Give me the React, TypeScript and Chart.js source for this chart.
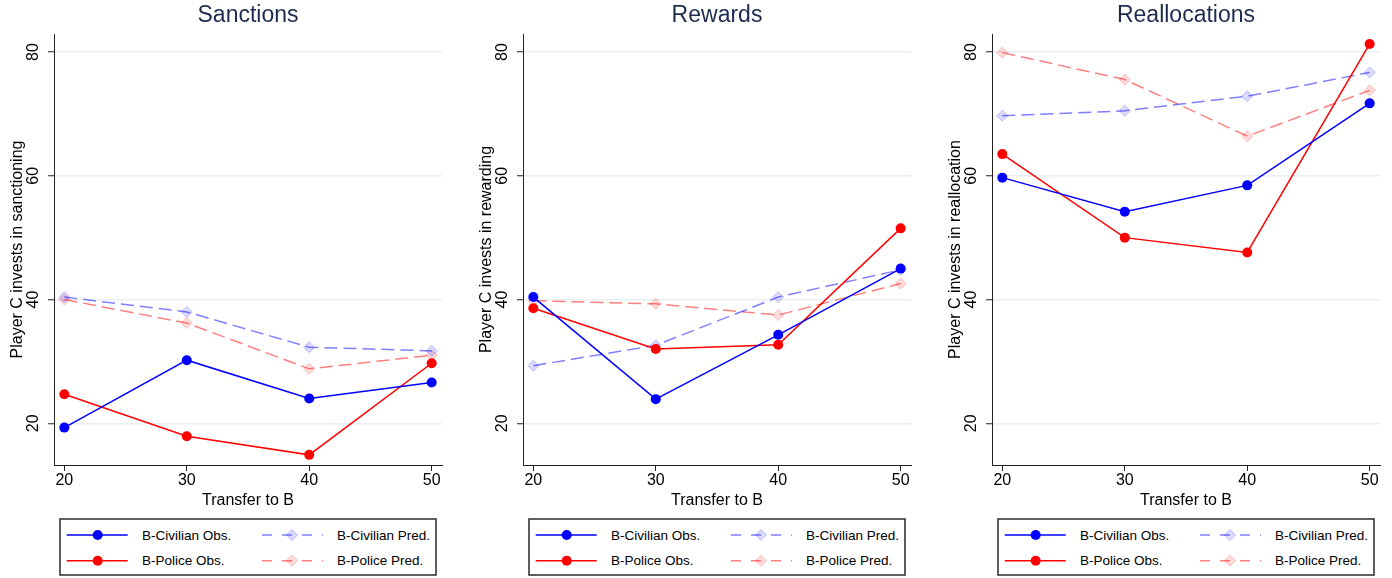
import { useEffect, useRef } from 'react';
import { Chart, registerables } from 'chart.js';

Chart.register(...registerables);

// ---- data ----
const transfers = [20, 30, 40, 50];
const xTicks = [20, 30, 40, 50];
const yTicks = [20, 40, 60, 80];

const sanctionsCivObs = [19.3, 30.2, 24.0, 26.6];
const sanctionsPolObs = [24.7, 17.9, 14.9, 29.7];
const sanctionsCivPred = [40.4, 38.0, 32.3, 31.7];
const sanctionsPolPred = [40.0, 36.2, 28.8, 31.0];

const rewardsCivObs = [40.4, 23.9, 34.3, 45.0];
const rewardsPolObs = [38.6, 32.0, 32.7, 51.5];
const rewardsCivPred = [29.3, 32.6, 40.4, 44.8];
const rewardsPolPred = [39.8, 39.3, 37.5, 42.6];

const reallocCivObs = [59.7, 54.2, 58.45, 71.7];
const reallocPolObs = [63.5, 50.0, 47.6, 81.3];
const reallocCivPred = [69.7, 70.5, 72.85, 76.7];
const reallocPolPred = [79.9, 75.55, 66.4, 73.8];

const panelTitles = ['Sanctions', 'Rewards', 'Reallocations'];
const yTitles = [
  'Player C invests in sanctioning',
  'Player C invests in rewarding',
  'Player C invests in reallocation',
];
const legendLabels = ['B-Civilian Obs.', 'B-Police Obs.', 'B-Civilian Pred.', 'B-Police Pred.'];

const panelSeries = [
  [sanctionsCivObs, sanctionsPolObs, sanctionsCivPred, sanctionsPolPred],
  [rewardsCivObs, rewardsPolObs, rewardsCivPred, rewardsPolPred],
  [reallocCivObs, reallocPolObs, reallocCivPred, reallocPolPred],
];

// ---- style ----
const FONT = '"Liberation Sans", Arial, Helvetica, sans-serif';
const BLUE = '#0000ff';
const RED = '#ff0000';
const BLUE_PRED = 'rgba(0,0,255,0.5)';
const RED_PRED = 'rgba(255,0,0,0.5)';
const BLUE_MK_FILL = 'rgba(0,0,255,0.14)';
const RED_MK_FILL = 'rgba(255,0,0,0.14)';
const BLUE_MK_EDGE = 'rgba(0,0,255,0.22)';
const RED_MK_EDGE = 'rgba(255,0,0,0.22)';
const TITLE_COLOR = '#1c2b4e';
const GRID_COLOR = '#e9eff2';
const AXIS_COLOR = '#222';

const CANVAS_W = 454;
const CANVAS_H = 510;
const PANEL_LEFTS = [0, 469, 938];
const Y_AXIS_W = 54;
const PAD_TOP = 34;
const PAD_RIGHT = 12;
const X_AXIS_H = 45;

const toPts = (vals: number[]) => transfers.map((x, i) => ({ x, y: vals[i] }));

function Panel({ idx }: { idx: number }) {
  const ref = useRef<HTMLCanvasElement | null>(null);
  useEffect(() => {
    const canvas = ref.current;
    if (!canvas) return;
    const [civObs, polObs, civPred, polPred] = panelSeries[idx];
    const titleText = panelTitles[idx];
    const titlePlugin = {
      id: 'panelTitle',
      afterDraw(chart: any) {
        const { ctx, chartArea } = chart;
        ctx.save();
        ctx.font = `23px ${FONT}`;
        ctx.fillStyle = TITLE_COLOR;
        ctx.textAlign = 'center';
        ctx.textBaseline = 'middle';
        ctx.fillText(titleText, (chartArea.left + chartArea.right) / 2, 16);
        ctx.restore();
      },
    };
    const obs = (vals: number[], color: string) => ({
      data: toPts(vals),
      borderColor: color,
      backgroundColor: color,
      borderWidth: 1.5,
      pointStyle: 'circle',
      pointRadius: 5,
      pointBackgroundColor: color,
      pointBorderColor: color,
      pointBorderWidth: 0,
      tension: 0,
      fill: false,
    });
    const pred = (vals: number[], color: string, mkFill: string, mkEdge: string) => ({
      data: toPts(vals),
      borderColor: color,
      backgroundColor: mkFill,
      borderWidth: 1.5,
      borderDash: [13, 6],
      pointStyle: 'rectRot',
      pointRadius: 5.5,
      pointBackgroundColor: mkFill,
      pointBorderColor: mkEdge,
      pointBorderWidth: 1,
      tension: 0,
      fill: false,
    });
    const chart = new Chart(canvas, {
      type: 'line',
      data: {
        datasets: [
          obs(civObs, BLUE),
          obs(polObs, RED),
          pred(civPred, BLUE_PRED, BLUE_MK_FILL, BLUE_MK_EDGE),
          pred(polPred, RED_PRED, RED_MK_FILL, RED_MK_EDGE),
        ] as any,
      },
      options: {
        responsive: false,
        animation: false,
        devicePixelRatio: 1,
        events: [],
        layout: { padding: { top: PAD_TOP, right: PAD_RIGHT, left: 0, bottom: 0 } },
        plugins: {
          legend: { display: false },
          tooltip: { enabled: false },
          title: { display: false },
        },
        scales: {
          x: {
            type: 'linear',
            min: 19.156,
            max: 50.844,
            afterBuildTicks: (s: any) => {
              s.ticks = xTicks.map((v) => ({ value: v }));
            },
            afterFit: (s: any) => {
              s.height = X_AXIS_H;
            },
            grid: {
              drawOnChartArea: false,
              drawTicks: true,
              tickLength: 6,
              tickColor: AXIS_COLOR,
              tickWidth: 1,
            },
            border: { display: true, color: AXIS_COLOR, width: 1 },
            ticks: {
              color: '#000',
              font: { family: FONT, size: 16 },
              padding: 0,
              maxRotation: 0,
              minRotation: 0,
              autoSkip: false,
              callback: (v: any) => String(v),
            },
            title: {
              display: true,
              text: 'Transfer to B',
              color: '#000',
              font: { family: FONT, size: 16 },
              padding: { top: 0, bottom: 0 },
            },
          },
          y: {
            type: 'linear',
            min: 13.26,
            max: 82.91,
            afterBuildTicks: (s: any) => {
              s.ticks = yTicks.map((v) => ({ value: v }));
            },
            afterFit: (s: any) => {
              s.width = Y_AXIS_W;
            },
            grid: {
              drawOnChartArea: true,
              color: GRID_COLOR,
              lineWidth: 1.5,
              drawTicks: true,
              tickLength: 6,
              tickColor: AXIS_COLOR,
              tickWidth: 1,
            },
            border: { display: true, color: AXIS_COLOR, width: 1 },
            ticks: {
              color: '#000',
              font: { family: FONT, size: 16 },
              padding: 6,
              minRotation: 90,
              maxRotation: 90,
              crossAlign: 'center',
              autoSkip: false,
              callback: (v: any) => String(v),
            },
            title: {
              display: true,
              text: yTitles[idx],
              color: '#000',
              font: { family: FONT, size: 16 },
              padding: { top: 8, bottom: 0 },
            },
          },
        },
      } as any,
      plugins: [titlePlugin],
    });
    return () => chart.destroy();
  }, [idx]);

  const left = PANEL_LEFTS[idx];
  // legend box: chart area inset by 6px
  const bx = left + Y_AXIS_W + 6;
  const bw = CANVAS_W - PAD_RIGHT - Y_AXIS_W - 12;
  const by = 519;
  const bh = 56;
  const row1 = 16;
  const row2 = 41.7;
  const c1 = 6.7;
  const c2 = 202;
  const lineLen = 61;
  const LEG_FONT = 13.5;

  const obsEntry = (x0: number, y: number, color: string, label: string) => (
    <g>
      <line x1={x0} y1={y} x2={x0 + lineLen} y2={y} stroke={color} strokeWidth={1.5} />
      <circle cx={x0 + 31} cy={y} r={5} fill={color} />
      <text x={x0 + 75.3} y={y} dominantBaseline="central" fontFamily={FONT} fontSize={LEG_FONT} fill="#000">
        {label}
      </text>
    </g>
  );
  const predEntry = (x0: number, y: number, color: string, fill: string, edge: string, label: string) => (
    <g>
      <line x1={x0} y1={y} x2={x0 + lineLen} y2={y} stroke={color} strokeWidth={1.5} strokeDasharray="10 10" />
      <polygon
        points={`${x0 + 30},${y - 5.5} ${x0 + 35.5},${y} ${x0 + 30},${y + 5.5} ${x0 + 24.5},${y}`}
        fill={fill}
        stroke={edge}
        strokeWidth={1}
      />
      <text x={x0 + 75} y={y} dominantBaseline="central" fontFamily={FONT} fontSize={LEG_FONT} fill="#000">
        {label}
      </text>
    </g>
  );

  return (
    <>
      <canvas
        ref={ref}
        width={CANVAS_W}
        height={CANVAS_H}
        style={{ position: 'absolute', left, top: 0, width: CANVAS_W, height: CANVAS_H }}
      />
      <svg
        width={bw + 4}
        height={bh + 4}
        style={{ position: 'absolute', left: bx - 2, top: by - 2, overflow: 'visible' }}
      >
        <g transform="translate(2,2)">
          <rect x={0} y={0} width={bw} height={bh} fill="#fff" stroke="#2a2a2a" strokeWidth={1.5} />
          {obsEntry(c1, row1, BLUE, legendLabels[0])}
          {obsEntry(c1, row2, RED, legendLabels[1])}
          {predEntry(c2, row1, BLUE_PRED, BLUE_MK_FILL, BLUE_MK_EDGE, legendLabels[2])}
          {predEntry(c2, row2, RED_PRED, RED_MK_FILL, RED_MK_EDGE, legendLabels[3])}
        </g>
      </svg>
    </>
  );
}

export default function App() {
  return (
    <div
      style={{
        position: 'absolute',
        left: 0,
        top: 0,
        width: 1392,
        height: 578,
        background: '#fff',
        overflow: 'hidden',
      }}
    >
      <Panel idx={0} />
      <Panel idx={1} />
      <Panel idx={2} />
    </div>
  );
}
